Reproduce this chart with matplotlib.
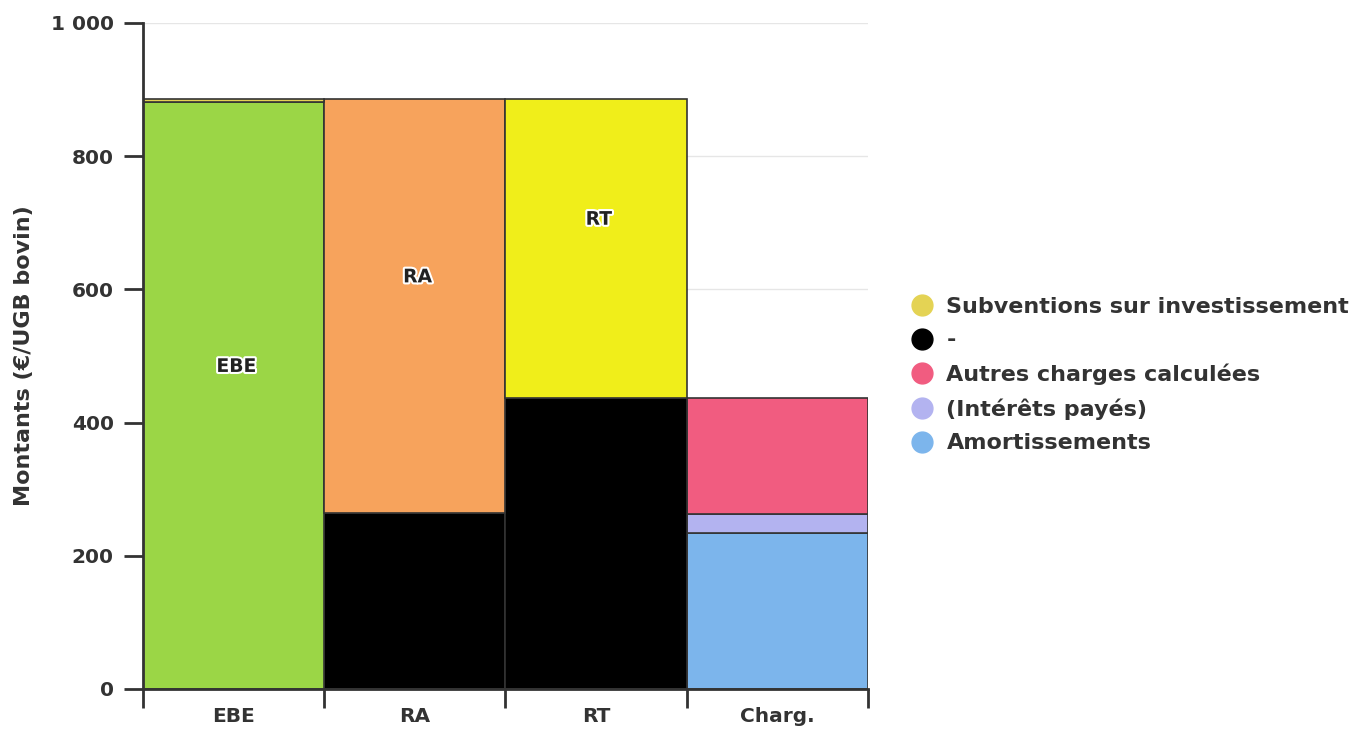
import matplotlib
matplotlib.use("Agg")
import matplotlib.pyplot as plt
import matplotlib.patheffects as pe
from matplotlib.lines import Line2D
import numpy as np

# categories on the x axis
categories = ["EBE", "RA", "RT", "Charg."]

# stacked series, bottom to top (one value per category)
amortissements = [0, 0, 0, 234]
interets = [0, 0, 0, 29]
autres_charges = [0, 0, 0, 174]
tiret = [0, 264, 437, 0]          # black "-" series
ebe = [881, 0, 0, 0]
ra = [0, 622, 0, 0]
rt = [0, 0, 449, 0]
subventions = [5, 0, 0, 0]

series = [
    ("Amortissements", amortissements, "#7cb5ec", True),
    ("(Intérêts payés)", interets, "#b3b3f0", True),
    ("Autres charges calculées", autres_charges, "#f15c80", True),
    ("-", tiret, "#000000", True),
    ("EBE", ebe, "#9bd646", False),
    ("RA", ra, "#f7a35c", False),
    ("RT", rt, "#f0ee1a", False),
    ("Subventions sur investissement", subventions, "#e4d354", True),
]

# labels written inside bars
bar_labels = {"EBE": 0, "RA": 1, "RT": 2}

fig = plt.figure(figsize=(13.55, 7.30), dpi=100)
ax = fig.add_axes([0.1055, 0.0562, 0.5351, 0.9123])

x = np.arange(len(categories))
bottoms = np.zeros(len(categories))
for name, vals, color, _ in series:
    vals = np.array(vals, dtype=float)
    for i, v in enumerate(vals):
        if v > 0:
            ax.bar(x[i], v, width=1.0, bottom=bottoms[i], color=color,
                   edgecolor="#333333", linewidth=1.2, zorder=3)
    # label for the main series of each bar
    if name in bar_labels:
        i = bar_labels[name]
        mid = bottoms[i] + vals[i] / 2
        ax.annotate(name, xy=(x[i], mid), xytext=(2, 21), textcoords="offset points",
                    ha="center", va="center", fontsize=13.5, fontweight="bold",
                    color="#222222", zorder=5,
                    path_effects=[pe.withStroke(linewidth=3, foreground="white")])
    bottoms += vals

ax.set_xlim(-0.5, len(categories) - 0.5)
ax.set_ylim(0, 1000)

# y axis
ax.set_yticks([0, 200, 400, 600, 800, 1000])
ax.set_yticklabels(["0", "200", "400", "600", "800", "1 000"])
ax.yaxis.grid(True, color="#e6e6e6", linewidth=1, zorder=0)
ax.set_axisbelow(True)
ax.tick_params(axis="y", length=14, width=2, color="#333333", labelsize=14.5,
               labelcolor="#333333", pad=7)
ax.set_ylabel("Montants (€/UGB bovin)", fontsize=16, fontweight="bold",
              color="#333333", labelpad=12)

# x axis: ticks at bar boundaries, labels centered
ax.set_xticks(np.arange(len(categories) + 1) - 0.5)
ax.set_xticklabels([])
ax.set_xticks(x, minor=True)
ax.set_xticklabels(categories, minor=True)
ax.tick_params(axis="x", which="major", length=14, width=2, color="#333333")
ax.tick_params(axis="x", which="minor", length=0, labelsize=14.5,
               labelcolor="#333333", pad=13)
for lab in ax.get_yticklabels() + ax.get_xticklabels(minor=True):
    lab.set_fontweight("bold")

for s in ["top", "right"]:
    ax.spines[s].set_visible(False)
for s in ["left", "bottom"]:
    ax.spines[s].set_color("#333333")
    ax.spines[s].set_linewidth(2)
    ax.spines[s].set_zorder(4)

# legend with round markers, top series first
handles = []
labels = []
for name, vals, color, in_legend in reversed(series):
    if in_legend:
        handles.append(Line2D([], [], marker="o", linestyle="", markersize=15,
                              markerfacecolor=color, markeredgecolor=color))
        labels.append(name)
leg = fig.legend(handles, labels, loc="center left", bbox_to_anchor=(0.6657, 0.486),
                 frameon=False, fontsize=16, handletextpad=0.6, labelspacing=0.6,
                 handlelength=1.0, borderaxespad=0)
for t in leg.get_texts():
    t.set_fontweight("bold")
    t.set_color("#333333")

fig.savefig("out.png", dpi=100)
